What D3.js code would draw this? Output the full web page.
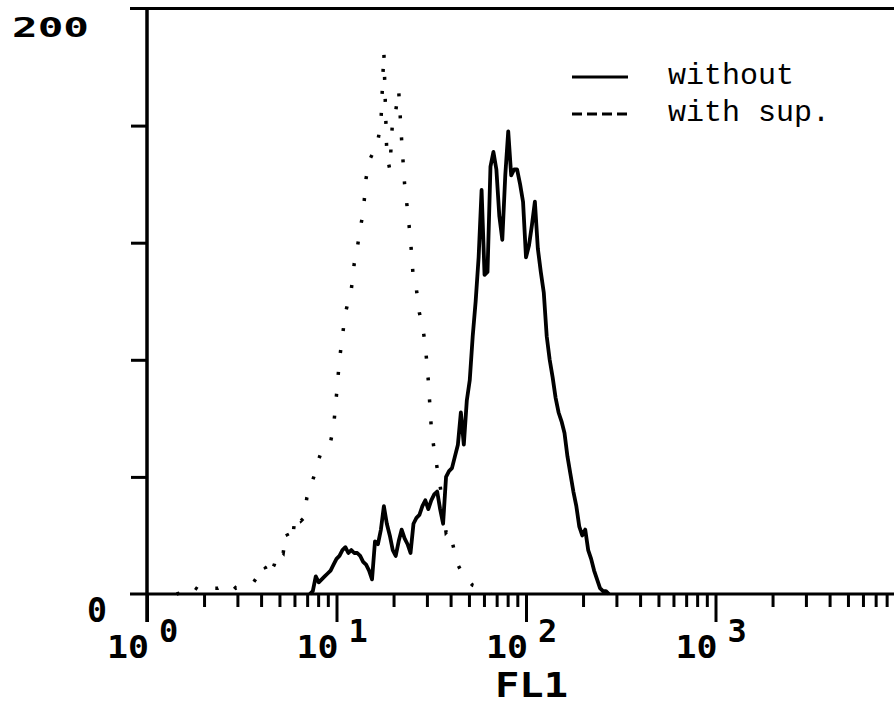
<!DOCTYPE html>
<html>
<head>
<meta charset="utf-8">
<script src="https://cdn.jsdelivr.net/npm/d3@7/dist/d3.min.js"></script>
<style>
  html, body { margin: 0; padding: 0; background: #fff; }
  svg { display: block; }
  .num { font-family: "DejaVu Sans Mono", monospace; font-weight: bold; fill: #000;
         font-variant-numeric: slashed-zero; font-feature-settings: "zero" 1; }
  .leg { font-family: "Liberation Mono", "Courier New", monospace; fill: #000; }
</style>
</head>
<body>
<svg id="chart" width="894" height="706"></svg>
<script>
// FL1 fluorescence histograms, 256 log channels over four decades
const channelsPerDecade = 64;

const withoutChannels = [55, 56, 57, 58, 59, 60, 61, 62, 63, 64, 65, 66, 67, 68, 69, 70, 71, 72, 73, 74,
  75, 76, 77, 78, 79, 80, 81, 82, 83, 84, 85, 86, 87, 88, 89, 90, 91, 92, 93, 94,
  95, 96, 97, 98, 99, 100, 101, 102, 103, 104, 105, 106, 107, 108, 109, 110, 111, 112, 113, 114,
  115, 116, 117, 118, 119, 120, 121, 122, 123, 124, 125, 126, 127, 128, 129, 130, 131, 132, 133, 134,
  135, 136, 137, 138, 139, 140, 141, 142, 143, 144, 145, 146, 147, 148, 149, 150, 151, 152, 153, 154,
  155, 156];
const withoutCounts = [0, 1, 6, 4, 5, 6, 7, 8, 10, 12, 13, 15, 16, 14, 15, 14, 14, 13, 11, 10,
  8, 5, 18, 17, 22, 30, 24, 20, 15, 13, 18, 22, 19, 17, 14, 24, 26, 27, 30, 32,
  29, 32, 34, 35, 29, 24, 40, 42, 43, 47, 51, 62, 51, 66, 73, 88, 100, 115, 138, 109,
  110, 146, 151, 145, 129, 121, 143, 158, 143, 145, 145, 140, 134, 115, 119, 126, 134, 118, 110, 103,
  88, 80, 74, 67, 62, 59, 55, 47, 41, 35, 30, 23, 20, 22, 15, 12, 8, 5, 2, 1,
  1, 0];

const withSupChannels = [10, 13, 15, 18, 20, 22, 24, 26, 28, 30, 32, 34, 36, 38, 39, 40, 41, 42, 43, 44,
  45, 46, 47, 48, 49, 50, 51, 52, 53, 54, 55, 56, 57, 58, 59, 60, 61, 62, 63, 64,
  65, 66, 67, 68, 69, 70, 71, 72, 73, 74, 75, 76, 77, 78, 79, 80, 81, 82, 83, 84,
  85, 86, 87, 88, 89, 90, 91, 92, 93, 94, 95, 96, 97, 98, 99, 100, 101, 102, 103, 104,
  105, 106, 107, 108, 110, 113, 116];
const withSupCounts = [0, 1, 3, 1, 1, 2, 2, 3, 4, 2, 3, 3, 4, 7, 10, 9, 6, 8, 10, 14,
  15, 14, 21, 19, 18, 26, 27, 25, 26, 33, 36, 39, 42, 46, 49, 50, 51, 52, 57, 68,
  80, 88, 96, 100, 104, 113, 118, 125, 130, 142, 148, 150, 154, 155, 161, 185, 150, 145, 163, 165,
  172, 155, 140, 131, 121, 107, 104, 96, 92, 85, 73, 57, 49, 43, 37, 29, 21, 22, 18, 14,
  10, 8, 6, 5, 3, 2, 0];

const countTicks = [40, 80, 120, 160];
const countLabels = [0, 200];
const decadeExponents = [0, 1, 2, 3];
const minorMultipliers = [2, 3, 4, 5, 6, 7, 8, 9];
const legendLabels = ["without", "with sup."];
const axisTitle = "FL1";

const svg = d3.select("#chart");

const x = d3.scaleLog().domain([1, 1e4]).range([147, 905]);
const y = d3.scaleLinear().domain([0, 200]).range([594, 8.5]);
const toFL1 = ch => Math.pow(10, ch / channelsPerDecade);

const rows = (chs, counts) => chs.map((c, i) => ({ v: toFL1(c), n: counts[i] }));
const withoutData = rows(withoutChannels, withoutCounts);
const withSupData = rows(withSupChannels, withSupCounts);

const line = d3.line().x(d => x(d.v)).y(d => y(d.n));

// Histogram traces
svg.append("path")
  .datum(withSupData)
  .attr("d", line)
  .attr("fill", "none")
  .attr("stroke", "#000")
  .attr("stroke-width", 3.5)
  .attr("stroke-dasharray", "3 19");

svg.append("path")
  .datum(withoutData)
  .attr("d", line)
  .attr("fill", "none")
  .attr("stroke", "#000")
  .attr("stroke-width", 3.8)
  .attr("stroke-linejoin", "round");

// Frame: top rule, baseline and count axis
const frame = svg.append("g").attr("stroke", "#000").attr("stroke-width", 3);
frame.append("line").attr("x1", 130).attr("x2", 894).attr("y1", y(200)).attr("y2", y(200));
frame.append("line").attr("x1", 130).attr("x2", 894).attr("y1", y(0)).attr("y2", y(0));
frame.append("line").attr("x1", x(1)).attr("x2", x(1)).attr("y1", y(200)).attr("y2", y(0) + 28)
  .attr("stroke-width", 3.5);

// Count ticks
const yAxis = svg.append("g")
  .attr("transform", `translate(${x(1)},0)`)
  .call(d3.axisLeft(y).tickValues(countTicks).tickSize(16).tickFormat(""));
yAxis.select(".domain").remove();
yAxis.selectAll(".tick line").attr("stroke", "#000").attr("stroke-width", 3);

// FL1 ticks: minor (2..9 per decade) and decade marks
const minorValues = [];
decadeExponents.forEach(e => minorMultipliers.forEach(m => minorValues.push(m * Math.pow(10, e))));
const xMinor = svg.append("g")
  .attr("transform", `translate(0,${y(0)})`)
  .call(d3.axisBottom(x).tickValues(minorValues.filter(v => x(v) < 894)).tickSize(13).tickFormat(""));
xMinor.select(".domain").remove();
xMinor.selectAll(".tick line").attr("stroke", "#000").attr("stroke-width", 3);

const decades = decadeExponents.map(e => Math.pow(10, e));
const xMajor = svg.append("g")
  .attr("transform", `translate(0,${y(0)})`)
  .call(d3.axisBottom(x).tickValues(decades).tickSize(28).tickFormat(""));
xMajor.select(".domain").remove();
xMajor.selectAll(".tick line").attr("stroke", "#000").attr("stroke-width", 3);

// Decade labels: "10" with a raised exponent
decadeExponents.forEach(e => {
  const px = x(Math.pow(10, e));
  svg.append("text").attr("class", "num")
    .attr("x", px + 2).attr("y", y(0) + 64)
    .attr("text-anchor", "end")
    .attr("font-size", 32)
    .attr("textLength", 42).attr("lengthAdjust", "spacingAndGlyphs")
    .text("10");
  svg.append("text").attr("class", "num")
    .attr("x", px + 12).attr("y", y(0) + 48)
    .attr("font-size", 32)
    .text(String(e));
});

// Count labels
svg.append("text").attr("class", "num")
  .attr("x", 12).attr("y", y(200) + 28.5)
  .attr("font-size", 26)
  .attr("textLength", 77).attr("lengthAdjust", "spacingAndGlyphs")
  .text(String(countLabels[1]));
svg.append("text").attr("class", "num")
  .attr("x", 87).attr("y", y(0) + 28)
  .attr("font-size", 33)
  .attr("textLength", 20).attr("lengthAdjust", "spacingAndGlyphs")
  .text(String(countLabels[0]));

// Axis title
svg.append("text").attr("class", "num")
  .attr("x", 495).attr("y", 697)
  .attr("font-size", 33)
  .attr("textLength", 73).attr("lengthAdjust", "spacingAndGlyphs")
  .text(axisTitle);

// Legend
const legend = svg.append("g");
const legendY = [77, 114];
legend.append("line").attr("x1", 572).attr("x2", 628).attr("y1", legendY[0]).attr("y2", legendY[0])
  .attr("stroke", "#000").attr("stroke-width", 3);
legend.append("line").attr("x1", 572).attr("x2", 628).attr("y1", legendY[1]).attr("y2", legendY[1])
  .attr("stroke", "#000").attr("stroke-width", 3).attr("stroke-dasharray", "10 5");
legendLabels.forEach((t, i) => {
  legend.append("text").attr("class", "leg")
    .attr("x", 668).attr("y", legendY[i] + 6.5)
    .attr("font-size", 30)
    .text(t);
});
</script>
</body>
</html>
